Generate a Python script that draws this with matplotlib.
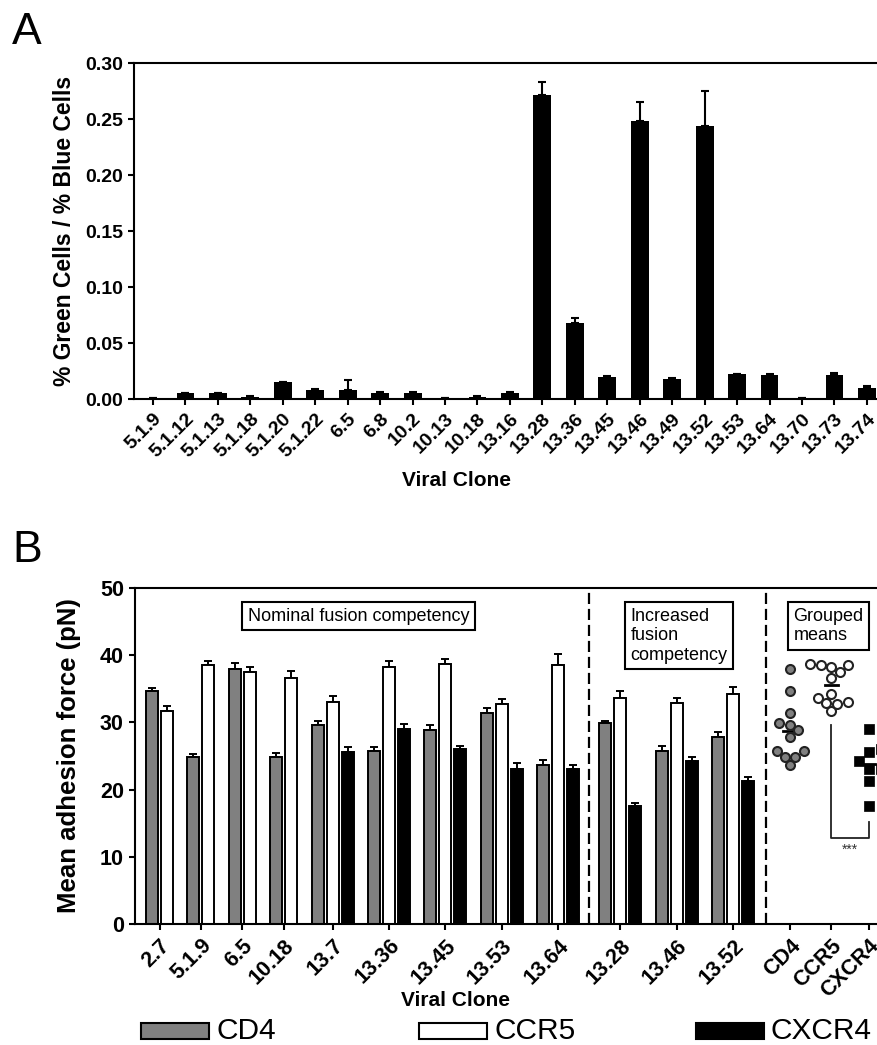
import numpy as np
import matplotlib
matplotlib.use("Agg")
import matplotlib.pyplot as plt
from matplotlib.patches import Rectangle

plt.rcParams['font.family'] = ['Liberation Sans', 'DejaVu Sans']

# panel A data
clones_a = ['5.1.9', '5.1.12', '5.1.13', '5.1.18', '5.1.20', '5.1.22', '6.5', '6.8',
            '10.2', '10.13', '10.18', '13.16', '13.28', '13.36', '13.45', '13.46',
            '13.49', '13.52', '13.53', '13.64', '13.70', '13.73', '13.74']
ratio_a = [0.001, 0.005, 0.005, 0.002, 0.015, 0.008, 0.008, 0.005, 0.005, 0.001, 0.002,
           0.005, 0.271, 0.068, 0.020, 0.248, 0.018, 0.244, 0.022, 0.021, 0.001, 0.021, 0.010]
err_a = [0.0, 0.0005, 0.0005, 0.0005, 0.0005, 0.0005, 0.009, 0.001, 0.001, 0.0, 0.0005,
         0.001, 0.012, 0.004, 0.0005, 0.017, 0.001, 0.031, 0.0, 0.001, 0.0, 0.002, 0.002]

# panel B data (nan = not measured)
clones_b = ['2.7', '5.1.9', '6.5', '10.18', '13.7', '13.36', '13.45', '13.53', '13.64',
            '13.28', '13.46', '13.52']
cd4 = [34.6, 24.85, 37.9, 24.9, 29.66, 25.8, 28.9, 31.35, 23.6, 29.9, 25.8, 27.9]
cd4_err = [0.5, 0.45, 0.9, 0.5, 0.55, 0.5, 0.7, 0.85, 0.8, 0.3, 0.7, 0.7]
ccr5 = [31.7, 38.5, 37.45, 36.65, 33.1, 38.3, 38.65, 32.8, 38.5, 33.6, 32.9, 34.3]
ccr5_err = [0.8, 0.7, 0.85, 1.05, 0.8, 0.8, 0.85, 0.7, 1.7, 1.1, 0.8, 1.0]
cxcr4 = [np.nan, np.nan, np.nan, np.nan, 25.65, 29.0, 26.1, 23.1, 23.1, 17.5, 24.25, 21.3]
cxcr4_err = [np.nan, np.nan, np.nan, np.nan, 0.75, 0.8, 0.4, 0.8, 0.6, 0.5, 0.6, 0.6]
receptors = ['CD4', 'CCR5', 'CXCR4']
n_nominal = 9

W, H = 877, 1045
fig = plt.figure(figsize=(W / 100, H / 100), dpi=100)


def px_axes(left, top, right, bottom):
    return fig.add_axes([left / W, 1 - bottom / H, (right - left) / W, (bottom - top) / H])


def style(ax, lab_size):
    for s in ['left', 'bottom', 'top']:
        ax.spines[s].set_linewidth(1.5)
    ax.spines['right'].set_visible(False)
    ax.tick_params(width=1.5, length=4.5, labelsize=lab_size, direction='out')
    for t in ax.get_yticklabels():
        t.set_fontweight('bold')


# ---------------- panel A
axA = px_axes(134, 63, 900, 399)
xa = np.arange(len(clones_a))
axA.bar(xa, ratio_a, width=0.55, color='black', zorder=2)
axA.errorbar(xa, ratio_a, yerr=[np.zeros(len(err_a)), err_a], fmt='none', ecolor='black',
             elinewidth=1.5, capsize=3.2, capthick=1.5, zorder=1)
axA.set_xlim(-0.585, 23.02)
axA.set_ylim(0, 0.30)
axA.set_yticks(np.arange(0, 0.31, 0.05))
axA.set_yticklabels(['%.2f' % v for v in np.arange(0, 0.31, 0.05)])
axA.set_xticks(xa)
axA.set_xticklabels(clones_a, rotation=45, ha='right', rotation_mode='anchor',
                    fontweight='bold', fontsize=13.5)
style(axA, 14)
axA.set_ylabel('% Green Cells / % Blue Cells', fontsize=16.5, fontweight='bold')
axA.yaxis.set_label_coords(-0.0757, 0.5)
fig.text(456 / W, 1 - 480 / H, 'Viral Clone', ha='center', va='center',
         fontsize=15, fontweight='bold')

# ---------------- panel B
axB = px_axes(135, 588, 900, 924)
bw, pitch, gap, big_gap = 1.0, 1.25, 1.2, 1.67
series = [(cd4, cd4_err, '#808080'), (ccr5, ccr5_err, 'white'), (cxcr4, cxcr4_err, 'black')]
pos = 0.917
centers = []
dash_x = []
for g in range(len(clones_b)):
    present = [k for k in range(3) if not np.isnan(series[k][0][g])]
    for j, k in enumerate(present):
        vals, errs, col = series[k]
        x = pos + j * pitch + bw / 2
        axB.bar(x, vals[g], width=bw, color=col, edgecolor='black', linewidth=1.4, zorder=2)
        axB.errorbar(x, vals[g], yerr=[[0], [errs[g]]], fmt='none', ecolor='black',
                     elinewidth=1.4, capsize=2.8, capthick=1.4, zorder=1)
    span = (len(present) - 1) * pitch + bw
    centers.append(pos + span / 2)
    if g == n_nominal - 1:
        dash_x.append(pos + span + big_gap / 2)
        pos += span + big_gap
    else:
        pos += span + gap
dash_x.append(pos - gap + 1.0)
mean_x = [dash_x[1] + 2.0, dash_x[1] + 5.45, dash_x[1] + 8.55]

for d in dash_x:
    axB.axvline(d, color='black', lw=1.6, dashes=(5, 2.2), zorder=1)


def swarm(vals, diam):
    # simple beeswarm layout in pixel space (12 px per x unit, 6.72 px per y unit)
    order = np.argsort(vals)
    placed = []
    offs = np.zeros(len(vals))
    for i in order:
        py = vals[i] * 6.72
        for k in range(60):
            step = (k + 1) // 2 * (1 if k % 2 else -1) * diam * 0.3
            if all(np.hypot(step - ox, py - oy) >= diam for ox, oy in placed):
                break
        placed.append((step, py))
        offs[i] = step / 12.0
    return offs


groups = [np.array(cd4), np.array(ccr5), np.array(cxcr4)[~np.isnan(cxcr4)]]
marks = [dict(marker='o', s=42, c='#808080', edgecolors='#222222', linewidths=1.5),
         dict(marker='o', s=42, c='white', edgecolors='#222222', linewidths=1.5),
         dict(marker='s', s=62, c='black', edgecolors='black', linewidths=0.5)]
for gv, mx, mk in zip(groups, mean_x, marks):
    axB.plot([mx - 0.55, mx + 0.55], [gv.mean(), gv.mean()], color='black', lw=2, zorder=2)
    offs = swarm(gv, 9.0 if mk['marker'] == 'o' else 10.5)
    axB.scatter(mx + offs, gv, zorder=3, clip_on=True, **mk)

# significance bracket between CCR5 and CXCR4 groups
axB.plot([mean_x[1], mean_x[1], mean_x[2], mean_x[2]], [29.6, 12.8, 12.8, 15.2],
         color='#222222', lw=1.3, zorder=2)
axB.text((mean_x[1] + mean_x[2]) / 2, 11.0, '***', ha='center', va='center',
         fontsize=10, color='#333333')

box = dict(boxstyle='square,pad=0.3', facecolor='white', edgecolor='black', linewidth=1.5)
axB.text(18.625, 45.83, 'Nominal fusion competency', ha='center', va='center',
         fontsize=13, bbox=box, zorder=4)
axB.text(45.33, 42.86, 'Increased\nfusion\ncompetency', ha='center', va='center',
         multialignment='left', fontsize=13, bbox=box, zorder=4)
axB.text(57.78, 44.35, 'Grouped\nmeans', ha='center', va='center',
         multialignment='left', fontsize=13, bbox=box, zorder=4)

axB.set_xlim(0, (900 - 135) / 12)
axB.set_ylim(0, 50)
axB.set_yticks(range(0, 51, 10))
axB.set_xticks(centers + mean_x)
axB.set_xticklabels(clones_b + receptors, rotation=45, ha='right', rotation_mode='anchor',
                    fontweight='bold', fontsize=13.5)
style(axB, 15.5)
axB.set_ylabel('Mean adhesion force (pN)', fontsize=18.5, fontweight='bold')
axB.yaxis.set_label_coords(-0.0706, 0.5)
fig.text(455 / W, 1 - 1000 / H, 'Viral Clone', ha='center', va='center',
         fontsize=15, fontweight='bold')

# legend
leg_x = [141, 419, 696]
for lx, lab, (_, _, col) in zip(leg_x, receptors, series):
    fig.patches.append(Rectangle((lx / W, 1 - 1039 / H), 68 / W, 16 / H, transform=fig.transFigure,
                                 facecolor=col, edgecolor='black', linewidth=1.5))
    fig.text((lx + 75) / W, 1 - 1039 / H, lab, ha='left', va='baseline', fontsize=21.5)

fig.text(12 / W, 1 - 12 / H, 'A', ha='left', va='top', fontsize=32)
fig.text(12 / W, 1 - 530 / H, 'B', ha='left', va='top', fontsize=32)

fig.savefig('out.png', dpi=100)
